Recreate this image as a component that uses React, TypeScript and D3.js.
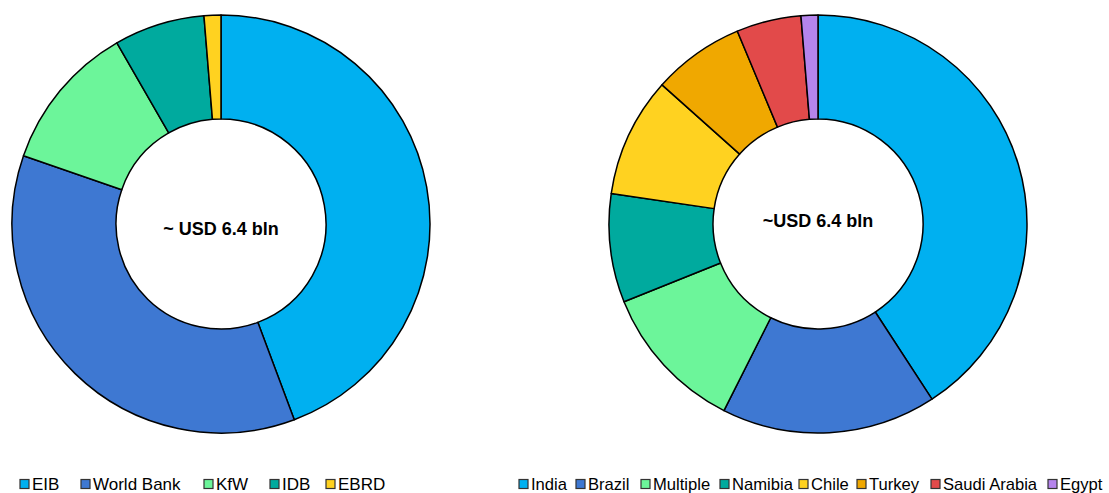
import React from "react";
import * as d3 from "d3";

const lenders = ["EIB", "World Bank", "KfW", "IDB", "EBRD"];
const lenderValues = [44.3, 36.0, 11.4, 7.0, 1.3];
const lenderColors = ["#00B0F0", "#3E78D2", "#6CF59A", "#00AA9E", "#FFD220"];

const countries = ["India", "Brazil", "Multiple", "Namibia", "Chile", "Turkey", "Saudi Arabia", "Egypt"];
const countryValues = [40.8, 16.6, 11.5, 8.4, 9.25, 7.1, 5.0, 1.3];
const countryColors = ["#00B0F0", "#3E78D2", "#6CF59A", "#00AA9E", "#FFD220", "#F0A800", "#E24A4A", "#B584EC"];

const leftLabel = "~ USD 6.4 bln";
const rightLabel = "~USD 6.4 bln";

function Donut({ cx, cy, values, colors, label, labelY }: any) {
  const pie = d3.pie<number>().sort(null).value((d) => d);
  const arc = d3.arc<d3.PieArcDatum<number>>().innerRadius(105).outerRadius(209);
  const arcs = pie(values);
  return (
    <g transform={`translate(${cx},${cy})`}>
      {arcs.map((a, i) => (
        <path key={i} d={arc(a) || ""} fill={colors[i]} stroke="#000" strokeWidth={1.5} strokeLinejoin="round" />
      ))}
      <text
        x={0}
        y={labelY}
        textAnchor="middle"
        dominantBaseline="central"
        fontFamily="'Liberation Sans', Arial, sans-serif"
        fontWeight="bold"
        fontSize={18}
        fill="#000"
      >
        {label}
      </text>
    </g>
  );
}

function Legend({ items, colors, xs, y, fontSize }: any) {
  return (
    <g>
      {items.map((t: string, i: number) => (
        <g key={t}>
          <rect x={xs[i]} y={y - 4.5} width={9} height={9} fill={colors[i]} stroke="#333" strokeWidth={1.2} />
          <text
            x={xs[i] + 12}
            y={y}
            dominantBaseline="central"
            fontFamily="'Liberation Sans', Arial, sans-serif"
            fontSize={fontSize}
            fill="#000"
          >
            {t}
          </text>
        </g>
      ))}
    </g>
  );
}

const leftLegendX = [20, 81, 204, 270, 326];
const rightLegendX = [519, 576, 641, 720, 799, 857, 931, 1048];

export default function App() {
  return (
    <svg
      width={1109}
      height={493}
      style={{ position: "absolute", left: 0, top: 0, background: "#fff" }}
    >
      <Donut cx={221} cy={224} values={lenderValues} colors={lenderColors} label={leftLabel} labelY={5} />
      <Donut cx={818} cy={224} values={countryValues} colors={countryColors} label={rightLabel} labelY={-3} />
      <Legend items={lenders} colors={lenderColors} xs={leftLegendX} y={484} fontSize={17} />
      <Legend items={countries} colors={countryColors} xs={rightLegendX} y={484} fontSize={16.6} />
    </svg>
  );
}
